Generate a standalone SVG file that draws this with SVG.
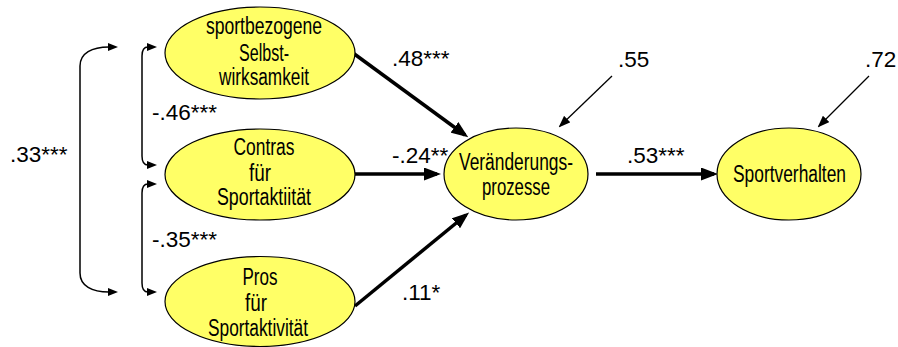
<svg xmlns="http://www.w3.org/2000/svg" width="898" height="347" viewBox="0 0 898 347">
  <style>
    .node ellipse { fill: #FFFF66; stroke: #000; stroke-width: 1.2; }
    .node text { font-family: "Liberation Sans", Arial, sans-serif; font-size: 23px; fill: #000; text-anchor: middle; }
    .lbl { font-family: "Liberation Sans", Arial, sans-serif; font-size: 22.5px; fill: #000; }
    .path { stroke: #000; stroke-width: 3.5; fill: none; marker-end: url(#headBig); }
    .resid { stroke: #000; stroke-width: 1.3; fill: none; marker-end: url(#headThin); }
    .corr { stroke: #000; stroke-width: 1.5; fill: none; marker-start: url(#headCorr); marker-end: url(#headCorr); }
  </style>
  <defs>
    <marker id="headBig" markerUnits="userSpaceOnUse" markerWidth="17" markerHeight="13" refX="13" refY="6.5" orient="auto">
      <path d="M0,0 L17,6.5 L0,13 z" fill="#000"/>
    </marker>
    <marker id="headThin" markerUnits="userSpaceOnUse" markerWidth="12" markerHeight="9" refX="10" refY="4.5" orient="auto">
      <path d="M0,0 L12,4.5 L0,9 z" fill="#000"/>
    </marker>
    <marker id="headCorr" markerUnits="userSpaceOnUse" markerWidth="10" markerHeight="8" refX="1" refY="4" orient="auto-start-reverse">
      <path d="M0,0 L10,4 L0,8 z" fill="#000"/>
    </marker>
  </defs>

  <!-- connectors -->
  <g id="connectors">
    <!-- correlations -->
    <path class="corr" d="M109,47 C92,47 80,53 80,66 L80,273 C80,286 92,292 109,292"/>
    <path class="corr" d="M148,47 C144,47 142,50 142,56 L142,156 C142,162 144,165 148,165"/>
    <path class="corr" d="M148,184 C144,184 142,187 142,193 L142,283 C142,289 144,292 148,292"/>
    <!-- structural paths -->
    <line class="path" x1="353" y1="53" x2="465" y2="135"/>
    <line class="path" x1="355" y1="174" x2="437" y2="174"/>
    <line class="path" x1="355" y1="306" x2="466" y2="215"/>
    <line class="path" x1="596" y1="174" x2="714" y2="174"/>
    <!-- residuals -->
    <line class="resid" x1="612" y1="76" x2="560" y2="126"/>
    <line class="resid" x1="869" y1="76" x2="819" y2="126"/>
  </g>

  <!-- nodes -->
  <g id="node-selbstwirksamkeit" class="node">
    <ellipse cx="260" cy="53" rx="95" ry="46"/>
    <text x="264" y="34" textLength="116" lengthAdjust="spacingAndGlyphs">sportbezogene</text>
    <text x="264" y="61" textLength="50" lengthAdjust="spacingAndGlyphs">Selbst-</text>
    <text x="264" y="85" textLength="90" lengthAdjust="spacingAndGlyphs">wirksamkeit</text>
  </g>
  <g id="node-contras" class="node">
    <ellipse cx="260" cy="174.5" rx="95" ry="45.5"/>
    <text x="264" y="155" textLength="61" lengthAdjust="spacingAndGlyphs">Contras</text>
    <text x="260" y="181" textLength="22" lengthAdjust="spacingAndGlyphs">für</text>
    <text x="264" y="205" textLength="94" lengthAdjust="spacingAndGlyphs">Sportaktiität</text>
  </g>
  <g id="node-pros" class="node">
    <ellipse cx="260" cy="301.5" rx="95" ry="45"/>
    <text x="260" y="285" textLength="35" lengthAdjust="spacingAndGlyphs">Pros</text>
    <text x="256" y="311" textLength="22" lengthAdjust="spacingAndGlyphs">für</text>
    <text x="258" y="336" textLength="100" lengthAdjust="spacingAndGlyphs">Sportaktivität</text>
  </g>
  <g id="node-veraenderungsprozesse" class="node">
    <ellipse cx="516" cy="174" rx="72" ry="46"/>
    <text x="516" y="170" textLength="114" lengthAdjust="spacingAndGlyphs">Veränderungs-</text>
    <text x="516" y="195" textLength="68" lengthAdjust="spacingAndGlyphs">prozesse</text>
  </g>
  <g id="node-sportverhalten" class="node">
    <ellipse cx="789" cy="174" rx="72" ry="46"/>
    <text x="789.5" y="182" textLength="113" lengthAdjust="spacingAndGlyphs">Sportverhalten</text>
  </g>

  <!-- coefficients -->
  <g id="labels">
    <text class="lbl" x="10" y="162">.33***</text>
    <text class="lbl" x="152" y="120">-.46***</text>
    <text class="lbl" x="152" y="247">-.35***</text>
    <text class="lbl" x="392" y="66">.48***</text>
    <text class="lbl" x="392" y="163">-.24**</text>
    <text class="lbl" x="402" y="300">.11*</text>
    <text class="lbl" x="627" y="163">.53***</text>
    <text class="lbl" x="618" y="67">.55</text>
    <text class="lbl" x="865" y="67">.72</text>
  </g>
</svg>
